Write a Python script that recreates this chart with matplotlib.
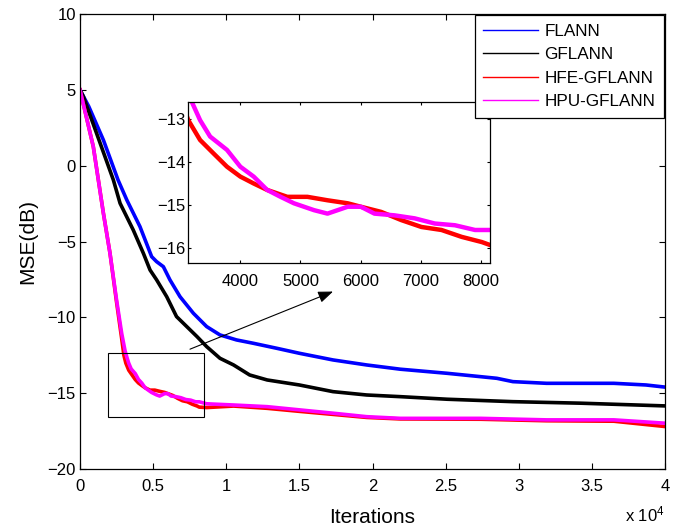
import matplotlib
matplotlib.use("Agg")
from matplotlib import pyplot as plt
from matplotlib.lines import Line2D
from matplotlib.patches import Rectangle

plt.rcParams['font.family'] = ['Liberation Sans', 'DejaVu Sans']
plt.rcParams['mathtext.default'] = 'regular'

# values (x in iterations, y in dB)
flann_x = [0, 600, 1600, 2600, 3200, 4100, 4900, 5240, 5700, 6150, 6840, 7750, 8660, 9570,
           10700, 11850, 13450, 15000, 17300, 19600, 21900, 25100, 28500, 29600, 31900,
           36500, 38700, 40000]
flann_y = [5.0, 3.9, 1.69, -0.94, -2.26, -4.02, -6.0, -6.33, -6.66, -7.53, -8.64, -9.73, -10.61,
           -11.16, -11.49, -11.71, -12.04, -12.37, -12.81, -13.14, -13.42, -13.69, -14.02,
           -14.24, -14.35, -14.35, -14.46, -14.6]

gflann_x = [0, 230, 1370, 2280, 2740, 3640, 4330, 4790, 5240, 5930, 6600, 7300, 8000, 8660,
            9570, 10500, 11600, 12800, 15000, 17300, 19600, 21900, 25100, 29600, 34200, 40000]
gflann_y = [5.0, 4.55, 1.5, -0.94, -2.48, -4.24, -5.77, -6.88, -7.53, -8.64, -9.95, -10.61,
            -11.27, -11.93, -12.70, -13.14, -13.80, -14.13, -14.46, -14.90, -15.12, -15.23,
            -15.40, -15.56, -15.66, -15.84]

hfe_x = [0, 910, 1600, 2050, 2500, 2850, 3000, 3135, 3331, 3553, 3778, 4000, 4222, 4446, 4781,
         5115, 5449, 5784, 6003, 6341, 6675, 7010, 7344, 7679, 8013, 8152, 8660, 10500, 12800,
         15000, 17300, 19600, 21900, 27400, 31900, 36500, 40000]
hfe_y = [5.0, 1.25, -3.14, -5.77, -9.0, -11.4, -12.5, -13.02, -13.48, -13.79, -14.10, -14.33,
         -14.49, -14.64, -14.80, -14.80, -14.88, -14.95, -15.03, -15.15, -15.34, -15.50, -15.57,
         -15.73, -15.85, -15.92, -15.95, -15.85, -16.0, -16.2, -16.4, -16.6, -16.7, -16.72,
         -16.82, -16.85, -17.2]

hpu_x = [0, 910, 1600, 2050, 2500, 2850, 3080, 3192, 3331, 3498, 3778, 4000, 4222, 4446, 4669,
         4891, 5226, 5449, 5784, 6003, 6229, 6563, 6898, 7233, 7567, 7901, 8152, 8660, 10500,
         12800, 15000, 17300, 19600, 21900, 27400, 31900, 36500, 40000]
hpu_y = [5.0, 1.25, -3.14, -5.77, -8.85, -11.05, -12.2, -12.59, -13.02, -13.40, -13.71, -14.10,
         -14.33, -14.64, -14.80, -14.95, -15.11, -15.19, -15.03, -15.03, -15.19, -15.23, -15.30,
         -15.42, -15.46, -15.57, -15.57, -15.7, -15.78, -15.89, -16.1, -16.32, -16.55, -16.66,
         -16.66, -16.76, -16.76, -16.98]

names = ["FLANN", "GFLANN", "HFE-GFLANN", "HPU-GFLANN"]
colors = ["#0000ff", "#000000", "#ff0000", "#ff00ff"]
series = [(flann_x, flann_y), (gflann_x, gflann_y), (hfe_x, hfe_y), (hpu_x, hpu_y)]

W, H = 684, 530
fig = plt.figure(figsize=(W / 100, H / 100), dpi=100)

ax = fig.add_axes([80 / W, 1 - 469 / H, 585 / W, 455 / H])
for (x, y), c in zip(series, colors):
    ax.plot([v / 1e4 for v in x], y, color=c, lw=2.6, solid_joinstyle='round')
ax.set_xlim(0, 4)
ax.set_ylim(-20, 10)
ax.set_xticks([0, 0.5, 1, 1.5, 2, 2.5, 3, 3.5, 4])
ax.set_xticklabels(['0', '0.5', '1', '1.5', '2', '2.5', '3', '3.5', '4'])
ax.set_yticks([-20, -15, -10, -5, 0, 5, 10])
ax.tick_params(direction='in', length=4, width=0.8, labelsize=12, top=True, right=True)
ax.tick_params(axis='x', pad=7)
ax.tick_params(axis='y', pad=3)
for s in ax.spines.values():
    s.set_linewidth(0.9)

# zoom box and arrow
ax.add_patch(Rectangle((0.1935, -16.55), 0.8500 - 0.1935, 4.18, fill=False,
                       edgecolor='black', lw=0.8, zorder=5))
ax.annotate('', xy=(1.73, -8.3), xytext=(0.752, -12.1),
            arrowprops=dict(arrowstyle='-|>,head_length=0.9,head_width=0.35',
                            color='black', lw=0.8, shrinkA=0, shrinkB=0))

fig.text(372.5 / W, 1 - 523 / H, 'Iterations', ha='center', va='baseline', fontsize=15)
fig.text(28 / W, 1 - 241.5 / H, 'MSE(dB)', ha='center', va='center', rotation=90, fontsize=15)
fig.text(625 / W, 1 - 521 / H, r'x 10$^{4}$', ha='left', va='baseline', fontsize=12)

# inset
axi = fig.add_axes([188 / W, 1 - 262.7 / H, 302 / W, 161 / H])
for (x, y), c in zip(series[2:], colors[2:]):
    axi.plot(x, y, color=c, lw=3.2, solid_joinstyle='round')
axi.set_xlim(3130, 8150)
axi.set_ylim(-16.33, -12.59)
axi.set_xticks([4000, 5000, 6000, 7000, 8000])
axi.set_yticks([-16, -15, -14, -13])
axi.tick_params(direction='in', length=2.5, width=0.8, labelsize=12, top=True, right=True)
axi.tick_params(axis='x', pad=8)
axi.tick_params(axis='y', pad=2)
for s in axi.spines.values():
    s.set_linewidth(0.9)

# legend on top of the inset
handles = [Line2D([], [], color=c, lw=1) for c in colors]
leg = fig.legend(handles, names, loc='upper right', bbox_to_anchor=(664 / W, 1 - 15 / H),
                 fontsize=12.3, frameon=True, fancybox=False,
                 framealpha=1, edgecolor='black', handlelength=3.2, handletextpad=0.4,
                 labelspacing=0.5, borderpad=0.5, borderaxespad=0)
leg.get_frame().set_linewidth(0.9)

fig.savefig('out.png', dpi=100)
